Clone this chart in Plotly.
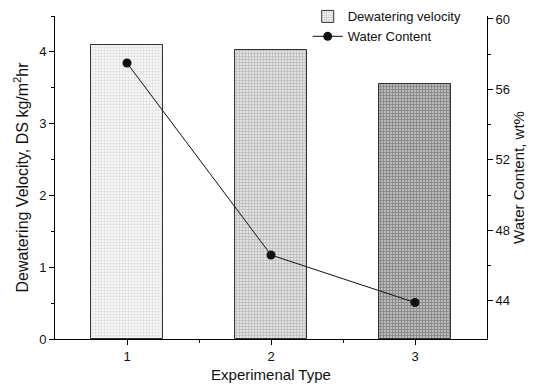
import plotly.graph_objects as go

experiment_types = [1, 2, 3]
dewatering_velocity = [4.1, 4.02, 3.55]
water_content = [57.5, 46.6, 43.9]

fig = go.Figure()

fig.add_trace(go.Bar(
    x=experiment_types, y=dewatering_velocity, width=0.5,
    name="Dewatering velocity",
    marker=dict(
        color="white",
        line=dict(color="#333333", width=1),
        pattern=dict(shape=["+", "+", "+"], size=3,
                     solidity=[0.2, 0.4, 0.6],
                     fgcolor=["#a0a0a0", "#888888", "#5a5a5a"],
                     bgcolor=["#f6f6f6", "#e2e2e2", "#bdbdbd"],
                     fillmode="overlay"),
    ),
    yaxis="y",
))

fig.add_trace(go.Scatter(
    x=experiment_types, y=water_content, mode="lines+markers",
    name="Water Content",
    line=dict(color="#111111", width=1),
    marker=dict(color="#111111", size=9, symbol="circle"),
    yaxis="y2",
))

axis_common = dict(showline=True, linecolor="black", linewidth=1,
                   ticks="outside", ticklen=5, tickcolor="black",
                   showgrid=False, zeroline=False,
                   ticklabeloverflow="allow",
                   tickfont=dict(size=13, color="#111"))

# page body has an 8px margin, so the figure is 8px smaller than the window
fig.update_layout(
    width=528, height=380,
    margin=dict(l=47, r=49, t=8, b=49, autoexpand=False),
    plot_bgcolor="white", paper_bgcolor="white",
    font=dict(family="Liberation Sans, Arial, sans-serif", color="#111"),
    bargap=0,
    xaxis=dict(range=[0.5, 3.5], tickvals=[1, 2, 3],
               minor=dict(tickvals=[1.5, 2.5], ticks="outside", ticklen=3, tickcolor="black"),
               title=dict(text="Experimenal Type", font=dict(size=15), standoff=6),
               **axis_common),
    yaxis=dict(range=[0, 4.5], dtick=1,
               minor=dict(dtick=0.5, ticks="outside", ticklen=3, tickcolor="black"),
               title=dict(text="Dewatering Velocity, DS kg/m<sup>2</sup>hr", font=dict(size=16), standoff=6),
               **axis_common),
    yaxis2=dict(range=[41.83, 60.17], tickvals=[44, 48, 52, 56, 60], overlaying="y", side="right",
                minor=dict(tickvals=[46, 50, 54, 58], ticks="outside", ticklen=3, tickcolor="black"),
                title=dict(text="Water Content, wt%", font=dict(size=15), standoff=3),
                **axis_common),
    legend=dict(x=0.585, y=1.045, xanchor="left", yanchor="top",
                bgcolor="rgba(255,255,255,0)", font=dict(size=13),
                itemwidth=30, tracegroupgap=0),
    showlegend=True,
)

fig.write_html("out.html")
